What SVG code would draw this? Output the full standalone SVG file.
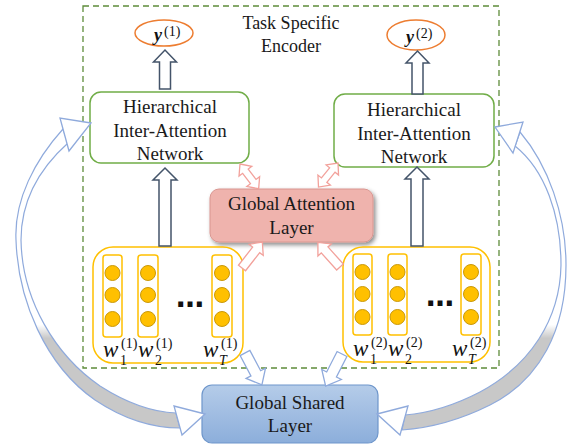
<svg xmlns="http://www.w3.org/2000/svg" width="568" height="445" viewBox="0 0 568 445">
<style>
.lbl{font-family:"Liberation Serif","Times New Roman",serif;font-size:19px;fill:#1a1a1a;text-anchor:middle}
.ttl{font-family:"Liberation Serif","Times New Roman",serif;font-size:18px;fill:#1a1a1a;text-anchor:middle}
.ym{font-family:"Liberation Serif",serif;font-size:18px;font-weight:bold;font-style:italic;fill:#111}
.sup{font-family:"Liberation Serif",serif;font-size:14px;fill:#111}
.wm{font-family:"Liberation Serif",serif;font-size:23px;font-style:italic;fill:#111}
.sub{font-family:"Liberation Serif",serif;font-size:14px;fill:#111}
.subi{font-family:"Liberation Serif",serif;font-size:14px;font-style:italic;fill:#111}
.green{fill:#fff;stroke:#70AD47;stroke-width:1.5}
.oval{fill:#fff;stroke:#ED7D31;stroke-width:1.5}
.ybox{fill:none;stroke:#FFC000;stroke-width:1.5}
.col{fill:none;stroke:#FFC000;stroke-width:1.5}
.dot{fill:#FFC000;stroke:#C9980A;stroke-width:1}
.dark{fill:#fff;stroke:#44546A;stroke-width:1.5}
.pink{fill:#fff;stroke:#F2A19B;stroke-width:1.3}
.blue{fill:#fff;stroke:#8FAADC;stroke-width:1.3}
.arc{fill:url(#arcfill);stroke:#8FAADC;stroke-width:1.2}
.dots{font-family:"DejaVu Sans",sans-serif;font-size:28px;font-weight:bold;fill:#111}
</style>
<defs>
<linearGradient id="arcfill" gradientUnits="userSpaceOnUse" x1="0" y1="0" x2="0" y2="445">
<stop offset="0" stop-color="#fff"/>
<stop offset="0.73" stop-color="#fff"/>
<stop offset="0.76" stop-color="#C8C8C8"/>
<stop offset="1" stop-color="#C8C8C8"/>
</linearGradient>
<linearGradient id="gsl" x1="0" y1="0" x2="0" y2="1">
<stop offset="0" stop-color="#B5CCE9"/>
<stop offset="1" stop-color="#8CAEDB"/>
</linearGradient>
<filter id="shadow" x="-10%" y="-20%" width="125%" height="150%">
<feDropShadow dx="2" dy="2.5" stdDeviation="2" flood-color="#000" flood-opacity="0.45"/>
</filter>
<path id="sarrow" d="M0,-4.5 L23,-4.5 L23,-9 L33,0 L23,9 L23,4.5 L0,4.5 Z"/>
<path id="darrow" d="M0,0 L9,-8 L9,-3.5 L22,-3.5 L22,-8 L31,0 L22,8 L22,3.5 L9,3.5 L9,8 Z"/>
<path id="barrow" d="M0,-5.5 L23,-5.5 L23,-11 L36,0 L23,11 L23,5.5 L0,5.5 Z"/>
</defs>
<rect width="568" height="445" fill="#fff"/>

<g id="task-encoder">
<rect x="83" y="6" width="416" height="362" fill="none" stroke="#5E8C3A" stroke-width="1.3" stroke-dasharray="6,4"/>
<text class="ttl" x="291" y="29">Task Specific</text>
<text class="ttl" x="291" y="52">Encoder</text>
</g>

<g id="y1">
<ellipse class="oval" cx="164" cy="33" rx="29" ry="13"/>
<text class="ym" x="154" y="41">y</text><text class="sup" x="164" y="36">(1)</text>
</g>
<g id="y2">
<ellipse class="oval" cx="416" cy="35" rx="29" ry="15"/>
<text class="ym" x="406" y="43">y</text><text class="sup" x="416" y="38">(2)</text>
</g>

<g id="hian1">
<rect class="green" x="90" y="92" width="159" height="71" rx="11"/>
<text class="lbl" x="170" y="113">Hierarchical</text>
<text class="lbl" x="170" y="136.5">Inter-Attention</text>
<text class="lbl" x="170" y="160">Network</text>
</g>
<g id="hian2">
<rect class="green" x="334" y="94" width="160" height="73" rx="11"/>
<text class="lbl" x="414" y="116">Hierarchical</text>
<text class="lbl" x="414" y="140">Inter-Attention</text>
<text class="lbl" x="414" y="163">Network</text>
</g>

<g id="global-attention">
<rect x="210" y="189" width="163" height="53" rx="9" fill="#EFB3AD" stroke="#D99690" stroke-width="1" filter="url(#shadow)"/>
<text class="lbl" x="291.5" y="210">Global Attention</text>
<text class="lbl" x="291.5" y="234">Layer</text>
</g>

<g id="words1">
<rect class="ybox" x="93" y="247" width="150" height="116" rx="20"/>
<rect class="col" x="103" y="255" width="19" height="82" rx="3"/>
<rect class="col" x="138" y="255" width="20" height="82" rx="3"/>
<rect class="col" x="212" y="255" width="20" height="82" rx="3"/>
<circle class="dot" cx="112.5" cy="273" r="7.5"/><circle class="dot" cx="112.5" cy="295" r="7.5"/><circle class="dot" cx="112.5" cy="319" r="7.5"/>
<circle class="dot" cx="148" cy="273" r="7.5"/><circle class="dot" cx="148" cy="295" r="7.5"/><circle class="dot" cx="148" cy="319" r="7.5"/>
<circle class="dot" cx="222" cy="273" r="7.5"/><circle class="dot" cx="222" cy="295" r="7.5"/><circle class="dot" cx="222" cy="319" r="7.5"/>
<text class="dots" x="176" y="307">…</text>
<text class="wm" x="103" y="357">w</text><text class="sub" x="120" y="365">1</text><text class="sup" x="121" y="348">(1)</text>
<text class="wm" x="138" y="357">w</text><text class="sub" x="155" y="365">2</text><text class="sup" x="156" y="348">(1)</text>
<text class="wm" x="203" y="357">w</text><text class="subi" x="219" y="365">T</text><text class="sup" x="221" y="348">(1)</text>
</g>

<g id="words2">
<rect class="ybox" x="343" y="247" width="147" height="115" rx="20"/>
<rect class="col" x="353" y="254" width="19" height="81" rx="3"/>
<rect class="col" x="388" y="254" width="19" height="81" rx="3"/>
<rect class="col" x="461" y="254" width="20" height="81" rx="3"/>
<circle class="dot" cx="362.5" cy="272" r="7.5"/><circle class="dot" cx="362.5" cy="294" r="7.5"/><circle class="dot" cx="362.5" cy="317" r="7.5"/>
<circle class="dot" cx="397.5" cy="272" r="7.5"/><circle class="dot" cx="397.5" cy="294" r="7.5"/><circle class="dot" cx="397.5" cy="317" r="7.5"/>
<circle class="dot" cx="471" cy="272" r="7.5"/><circle class="dot" cx="471" cy="294" r="7.5"/><circle class="dot" cx="471" cy="317" r="7.5"/>
<text class="dots" x="426" y="306">…</text>
<text class="wm" x="353" y="356">w</text><text class="sub" x="370" y="364">1</text><text class="sup" x="371" y="347">(2)</text>
<text class="wm" x="388" y="356">w</text><text class="sub" x="405" y="364">2</text><text class="sup" x="406" y="347">(2)</text>
<text class="wm" x="452" y="356">w</text><text class="subi" x="468" y="364">T</text><text class="sup" x="470" y="347">(2)</text>
</g>

<g id="global-shared">
<rect x="202" y="385" width="176" height="58" rx="10" fill="url(#gsl)" stroke="#6E96CB" stroke-width="1.2"/>
<text class="lbl" x="290" y="409">Global Shared</text>
<text class="lbl" x="290" y="432">Layer</text>
</g>

<g id="connectors">
<path class="dark" d="M159.5,89 V62 H153.5 L165,50 L176.5,62 H170.5 V89 Z"/>
<path class="dark" d="M412,94 V63 H406 L417.5,51 L429,63 H423 V94 Z"/>
<path class="dark" d="M159,246 V180 H153 L165,168 L177,180 H171 V246 Z"/>
<path class="dark" d="M411,246 V179 H405 L417,167 L429,179 H423 V246 Z"/>
<use href="#sarrow" class="pink" transform="translate(242,268) rotate(-52)"/>
<use href="#sarrow" class="pink" transform="translate(340,267) rotate(-132)"/>
<use href="#darrow" class="pink" transform="translate(240,164) rotate(53)"/>
<use href="#darrow" class="pink" transform="translate(338,163) rotate(129)"/>
<use href="#barrow" class="blue" transform="translate(245,353) rotate(62)"/>
<use href="#barrow" class="blue" transform="translate(342,354) rotate(117)"/>
<path class="arc" d="M63,129 C35,160 14,200 16,240 C18,300 45,365 95,400 C125,420 155,428 180,428 L176,413 C150,412 125,402 100,386 C55,355 22,300 21,240 C21,200 40,168 68,143 Z"/>
<path class="blue" d="M91,123 L60,118 L69,151 Z"/>
<path class="blue" d="M205,414 L174,406 L182,435 Z"/>
<path class="arc" d="M520,132 C548,165 566,215 566,265 C566,330 540,380 490,405 C460,420 430,428 402,430 L405,415 C430,413 455,405 480,392 C530,365 560,320 561,265 C561,215 545,170 515,146 Z"/>
<path class="blue" d="M495,127 L523,122 L513,153 Z"/>
<path class="blue" d="M377,414 L408,406 L400,435 Z"/>
</g>
</svg>
